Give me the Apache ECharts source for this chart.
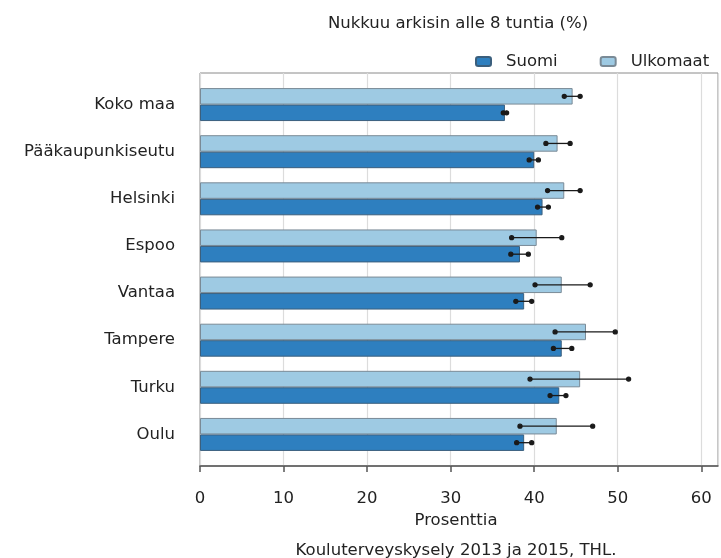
<!DOCTYPE html>
<html>
<head>
<meta charset="UTF-8">
<title>Nukkuu arkisin alle 8 tuntia</title>
<script src="https://cdn.jsdelivr.net/npm/echarts@6/dist/echarts.min.js"></script>
<style>
  html, body { margin: 0; padding: 0; background: #fff; }
  #main { width: 721px; height: 558px; }
</style>
</head>
<body>
<div id="main"></div>
<script type="text/javascript">
// data
var areas = ['Koko maa', 'Pääkaupunkiseutu', 'Helsinki', 'Espoo', 'Vantaa', 'Tampere', 'Turku', 'Oulu'];
var suomi = [36.5, 40.0, 41.0, 38.3, 38.8, 43.3, 43.0, 38.8];
var suomiLow = [36.3, 39.4, 40.4, 37.2, 37.8, 42.3, 41.9, 37.9];
var suomiHigh = [36.7, 40.5, 41.7, 39.3, 39.7, 44.5, 43.8, 39.7];
var ulkomaat = [44.6, 42.8, 43.6, 40.3, 43.3, 46.2, 45.5, 42.7];
var ulkomaatLow = [43.6, 41.4, 41.6, 37.3, 40.1, 42.5, 39.5, 38.3];
var ulkomaatHigh = [45.5, 44.3, 45.5, 43.3, 46.7, 49.7, 51.3, 47.0];
var xTicks = [0, 10, 20, 30, 40, 50, 60];

var font = 'DejaVu Sans';
var fs = 16.5;
var txt = '#222';

var myChart = echarts.init(document.getElementById('main'));

// error bars: data = [category index, low, high]
function errData(low, high) {
  var out = [];
  for (var i = 0; i < areas.length; i++) out.push([i, low[i], high[i]]);
  return out;
}
function errRender(shift) {
  return function (params, api) {
    var c = api.value(0);
    var band = api.size([0, 1])[1];
    var dy = shift * band * 0.175;
    var a = api.coord([api.value(1), c]);
    var b = api.coord([api.value(2), c]);
    var st = { stroke: '#1a1a1a', fill: '#1a1a1a', lineWidth: 1.3 };
    return {
      type: 'group',
      children: [
        { type: 'line', shape: { x1: a[0], y1: a[1] + dy, x2: b[0], y2: b[1] + dy }, style: st },
        { type: 'circle', shape: { cx: a[0], cy: a[1] + dy, r: 2 }, style: st },
        { type: 'circle', shape: { cx: b[0], cy: b[1] + dy, r: 2 }, style: st }
      ]
    };
  };
}

var option = {
  backgroundColor: '#fff',
  animation: false,
  textStyle: { fontFamily: font },
  title: [
    { text: 'Nukkuu arkisin alle 8 tuntia (%)', left: 453, top: 10, textAlign: 'center',
      textStyle: { fontFamily: font, fontSize: fs, fontWeight: 'normal', color: txt } },
    { text: 'Prosenttia', left: 451, top: 507, textAlign: 'center',
      textStyle: { fontFamily: font, fontSize: fs, fontWeight: 'normal', color: txt } },
    { text: 'Kouluterveyskysely 2013 ja 2015, THL.', left: 451, top: 537, textAlign: 'center',
      textStyle: { fontFamily: font, fontSize: fs, fontWeight: 'normal', color: txt } }
  ],
  legend: {
    data: ['Suomi', 'Ulkomaat'],
    orient: 'horizontal',
    left: 475, top: 53, width: 246, padding: 0,
    itemWidth: 15, itemHeight: 9, itemGap: 42,
    icon: 'roundRect',
    textStyle: { fontFamily: font, fontSize: fs, color: txt, padding: [0, 0, 0, 10] }
  },
  grid: [
    { left: 200, right: 3, top: 73, bottom: 92, show: true, borderColor: '#8a8a8a', borderWidth: 1 },
    { left: 200, right: 3, top: 81, bottom: 100 }
  ],
  xAxis: [
    {
      gridIndex: 0, type: 'value', min: 0, max: 62, interval: 10,
      axisLine: { show: true, lineStyle: { color: '#555', width: 1.5 } },
      axisTick: { show: true, length: 6, lineStyle: { color: '#555', width: 1.5 } },
      axisLabel: { showMaxLabel: false, margin: 24, fontFamily: font, fontSize: fs, color: txt,
        formatter: function (v) { return xTicks.indexOf(v) >= 0 ? String(v) : ''; } },
      splitLine: { show: true, lineStyle: { color: '#dcdcdc', width: 1.2 } }
    },
    { gridIndex: 1, type: 'value', min: 0, max: 62, show: false, splitLine: { show: false } }
  ],
  yAxis: [
    { gridIndex: 0, type: 'value', min: 0, max: 1, show: false, splitLine: { show: false } },
    {
      gridIndex: 1, type: 'category', data: areas, inverse: true,
      axisLine: { show: false }, axisTick: { show: false },
      axisLabel: { margin: 25, fontFamily: font, fontSize: fs, color: txt }
    }
  ],
  series: [
    {
      name: 'Ulkomaat', type: 'bar', xAxisIndex: 1, yAxisIndex: 1, data: ulkomaat,
      barGap: 0, barCategoryGap: '30%',
      itemStyle: { color: '#9ecae3', borderColor: '#7a8a96', borderWidth: 1 }
    },
    {
      name: 'Suomi', type: 'bar', xAxisIndex: 1, yAxisIndex: 1, data: suomi,
      barGap: 0, barCategoryGap: '30%',
      itemStyle: { color: '#2e7fbf', borderColor: '#3b5f7d', borderWidth: 1 }
    },
    {
      type: 'custom', xAxisIndex: 1, yAxisIndex: 1, z: 5,
      data: errData(ulkomaatLow, ulkomaatHigh),
      encode: { y: 0, x: [1, 2] },
      renderItem: errRender(-1)
    },
    {
      type: 'custom', xAxisIndex: 1, yAxisIndex: 1, z: 5,
      data: errData(suomiLow, suomiHigh),
      encode: { y: 0, x: [1, 2] },
      renderItem: errRender(1)
    }
  ]
};

myChart.setOption(option);
</script>
</body>
</html>
